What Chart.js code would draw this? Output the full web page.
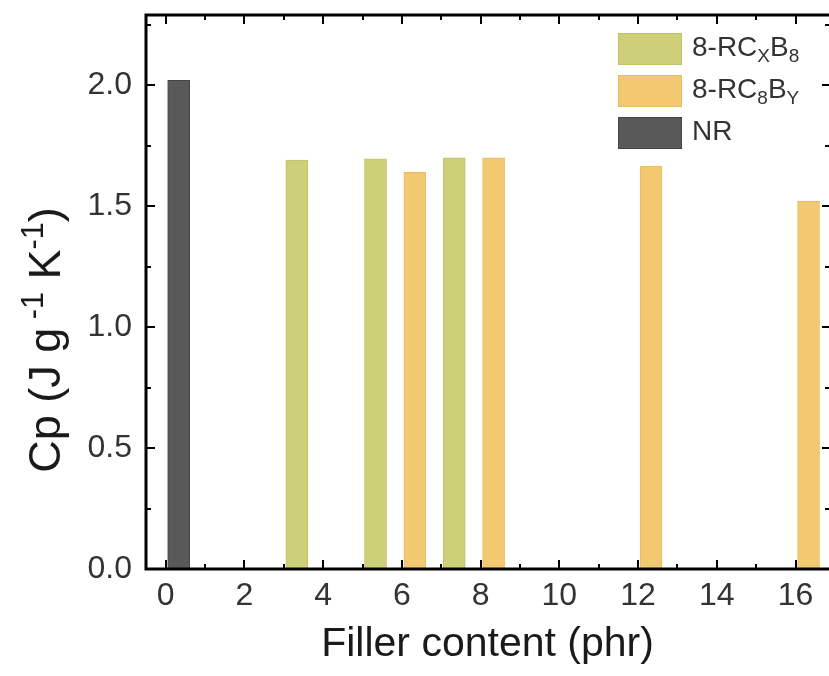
<!DOCTYPE html>
<html>
<head>
<meta charset="utf-8">
<script src="https://cdn.jsdelivr.net/npm/chart.js@4.4.0/dist/chart.umd.min.js"></script>
<style>
  html, body { margin: 0; padding: 0; background: #fff; overflow: hidden; }
  #wrap { width: 829px; height: 676px; position: relative; }
</style>
</head>
<body>
<div id="wrap"><canvas id="cpChart" width="829" height="676"></canvas></div>
<script>
// data
var fillerNR = [0]
var cpNR = [2.02]
var fillerX = [3, 5, 7]
var cpX = [1.69, 1.695, 1.70]
var fillerY = [6, 8, 12, 16]
var cpY = [1.64, 1.70, 1.665, 1.52]

var xTicks = [0, 2, 4, 6, 8, 10, 12, 14, 16]
var yTicks = [0, 0.5, 1.0, 1.5, 2.0]

// legend labels, _{..} = subscript
var labelX = '8-RC_{X}B_{8}'
var labelY = '8-RC_{8}B_{Y}'
var labelNR = 'NR'

var FONT = '"Liberation Sans", Arial, sans-serif'

function pts(xs, ys){
  return xs.map(function(x, i){ return {x: x, y: ys[i]} })
}

// bars sit to the right of their tick, like the original plot
var shiftBars = {
  id: 'shiftBars',
  afterDatasetsUpdate: function(chart){
    chart.data.datasets.forEach(function(d, i){
      chart.getDatasetMeta(i).data.forEach(function(el){
        el.x += el.width / 2 + 2
      })
    })
  }
}

// box frame with inward ticks on all four sides
var frame = {
  id: 'frame',
  afterDatasetsDraw: function(chart){
    var ctx = chart.ctx, a = chart.chartArea
    var xs = chart.scales.x, ys = chart.scales.y
    ctx.save()
    ctx.strokeStyle = '#000'
    ctx.lineWidth = 2
    xTicks.forEach(function(v){
      var p = Math.round(xs.getPixelForValue(v))
      ctx.beginPath(); ctx.moveTo(p, a.bottom); ctx.lineTo(p, a.bottom - 9); ctx.stroke()
      ctx.beginPath(); ctx.moveTo(p, a.top); ctx.lineTo(p, a.top + 9); ctx.stroke()
      var m = v + 1
      if (m < xs.max){
        var q = Math.round(xs.getPixelForValue(m))
        ctx.beginPath(); ctx.moveTo(q, a.bottom); ctx.lineTo(q, a.bottom - 5); ctx.stroke()
        ctx.beginPath(); ctx.moveTo(q, a.top); ctx.lineTo(q, a.top + 5); ctx.stroke()
      }
    })
    yTicks.forEach(function(v){
      var p = Math.round(ys.getPixelForValue(v))
      ctx.beginPath(); ctx.moveTo(a.left, p); ctx.lineTo(a.left + 9, p); ctx.stroke()
      ctx.beginPath(); ctx.moveTo(a.right + 1, p); ctx.lineTo(a.right - 7, p); ctx.stroke()
      var m = v + 0.25
      if (m < ys.max){
        var q = Math.round(ys.getPixelForValue(m))
        ctx.beginPath(); ctx.moveTo(a.left, q); ctx.lineTo(a.left + 5, q); ctx.stroke()
        ctx.beginPath(); ctx.moveTo(a.right + 1, q); ctx.lineTo(a.right - 4, q); ctx.stroke()
      }
    })
    ctx.lineWidth = 3
    ctx.strokeRect(a.left, a.top, a.right - a.left + 3, a.bottom - a.top)
    ctx.restore()
  }
}

// draw a string with _{sub} and ^{sup} parts
function richText(ctx, str, x, y, size){
  var parts = str.split(/([_^]\{[^}]*\})/)
  parts.forEach(function(p){
    if (!p) return
    var dy = 0, s = size, t = p
    if (p[0] === '_'){ t = p.slice(2, -1); s = size * 0.68; dy = size * 0.3 }
    else if (p[0] === '^'){ t = p.slice(2, -1); s = size * 0.68; dy = -size * 0.38 }
    ctx.font = s + 'px ' + FONT
    ctx.fillText(t, x, y + dy)
    x += ctx.measureText(t).width
  })
  return x
}
function richWidth(ctx, str, size){
  var w = 0
  str.split(/([_^]\{[^}]*\})/).forEach(function(p){
    if (!p) return
    var s = size, t = p
    if (p[0] === '_' || p[0] === '^'){ t = p.slice(2, -1); s = size * 0.68 }
    ctx.font = s + 'px ' + FONT
    w += ctx.measureText(t).width
  })
  return w
}

var legendBox = {
  id: 'legendBox',
  afterDraw: function(chart){
    var ctx = chart.ctx
    var order = [1, 2, 0]
    ctx.save()
    ctx.textBaseline = 'middle'
    order.forEach(function(di, k){
      var ds = chart.data.datasets[di]
      var top = 33 + k * 42
      ctx.fillStyle = ds.backgroundColor
      ctx.fillRect(618, top, 64, 32)
      ctx.strokeStyle = ds.borderColor
      ctx.lineWidth = 1
      ctx.strokeRect(618.5, top + 0.5, 63, 31)
      ctx.fillStyle = '#333'
      richText(ctx, ds.label, 692, top + 15, 28)
    })
    ctx.restore()
  }
}

var titles = {
  id: 'titles',
  afterDraw: function(chart){
    var ctx = chart.ctx, a = chart.chartArea
    ctx.save()
    ctx.fillStyle = '#1a1a1a'
    ctx.textBaseline = 'alphabetic'
    var xt = 'Filler content (phr)'
    var w = richWidth(ctx, xt, 41)
    richText(ctx, xt, (a.left + a.right) / 2 - w / 2, 656, 41)

    var yt = 'Cp (J g^{ -1} K^{-1})'
    ctx.translate(60, 340)
    ctx.rotate(-Math.PI / 2)
    var w2 = richWidth(ctx, yt, 45)
    richText(ctx, yt, -w2 / 2, 0, 45)
    ctx.restore()
  }
}

var cpChart = new Chart(document.querySelector('#cpChart'), {
  type: 'bar',
  data: {
    datasets: [
      {
        label: labelNR,
        data: pts(fillerNR, cpNR),
        backgroundColor: '#595959',
        borderColor: '#444444',
        borderWidth: 1
      },
      {
        label: labelX,
        data: pts(fillerX, cpX),
        backgroundColor: '#cdd077',
        borderColor: '#bfc266',
        borderWidth: 1
      },
      {
        label: labelY,
        data: pts(fillerY, cpY),
        backgroundColor: '#f2c970',
        borderColor: '#e8bd62',
        borderWidth: 1
      }
    ]
  },
  options: {
    responsive: false,
    animation: false,
    layout: { padding: { top: 15, right: 0, left: 0, bottom: 0 } },
    datasets: { bar: { grouped: false, barThickness: 22 } },
    plugins: { legend: { display: false }, tooltip: { enabled: false } },
    scales: {
      x: {
        type: 'linear',
        offset: false,
        min: -0.5,
        max: 16.85,
        grid: { display: false, drawTicks: false, offset: false },
        border: { display: false },
        afterBuildTicks: function(s){ s.ticks = xTicks.map(function(v){ return {value: v} }) },
        afterFit: function(s){ s.height = 107; s.paddingLeft = 0; s.paddingRight = 0 },
        ticks: {
          padding: 8,
          color: '#333',
          font: { family: FONT, size: 32 },
          maxRotation: 0,
          autoSkip: false
        }
      },
      y: {
        type: 'linear',
        min: 0,
        max: 2.29,
        grid: { display: false, drawTicks: false },
        border: { display: false },
        afterBuildTicks: function(s){ s.ticks = yTicks.map(function(v){ return {value: v} }) },
        afterFit: function(s){ s.width = 146; s.paddingTop = 0; s.paddingBottom = 0 },
        ticks: {
          padding: 14,
          color: '#333',
          font: { family: FONT, size: 32 },
          callback: function(v){ return v.toFixed(1) }
        }
      }
    }
  },
  plugins: [shiftBars, frame, legendBox, titles]
});
</script>
</body>
</html>
